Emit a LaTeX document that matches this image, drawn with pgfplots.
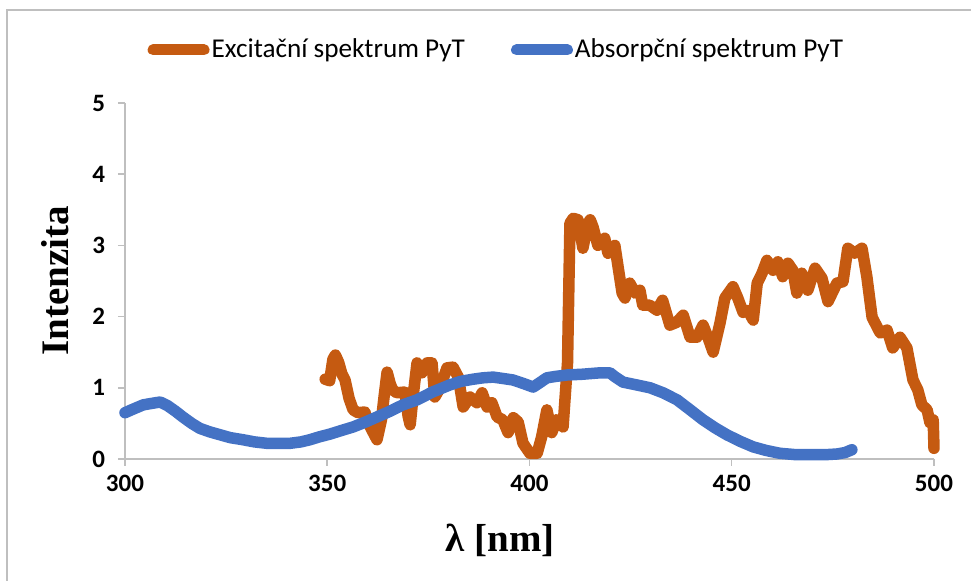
\documentclass[border=0pt]{standalone}
\usepackage{pgfplots}
\pgfplotsset{compat=1.18}
\usepackage{fontspec}
\setmainfont{Carlito}
\newfontfamily\serifbf{Liberation Serif}

\definecolor{excit}{RGB}{197,90,17}
\definecolor{absorb}{RGB}{68,114,196}
\definecolor{axgray}{RGB}{191,191,191}

\begin{document}
\begin{tikzpicture}
% page area and the chart frame
\path[use as bounding box] (0,0) rectangle (485.5pt,290.5pt);
\draw[axgray, line width=0.75pt] (3.5pt,0pt) -- (3.5pt,285.5pt) -- (485.5pt,285.5pt);

\begin{axis}[
  at={(62.5pt,61pt)}, anchor=south west,
  scale only axis, width=404.5pt, height=178pt,
  xmin=300, xmax=500, ymin=0, ymax=5,
  xtick={300,350,...,500}, ytick={0,1,2,3,4,5},
  axis x line*=bottom, axis y line*=left,
  axis line style={axgray, line width=0.75pt, -},
  tick style={axgray, line width=0.75pt},
  tick align=outside, major tick length=3.5pt,
  ticklabel style={font=\fontsize{12.5}{14}\selectfont\bfseries},
  /pgf/number format/assume math mode=true,
  yticklabel style={xshift=-3pt},
  xticklabel style={yshift=-1pt},
  xlabel={λ [nm]}, ylabel={Intenzita},
  label style={font=\serifbf\bfseries\fontsize{19.5}{22}\selectfont},
  xlabel style={at={(axis description cs:0.464,-0.2275)}, anchor=center},
  ylabel style={at={(axis description cs:-0.0865,0.5)}, anchor=center},
  clip=false,
  legend columns=2,
  legend style={at={(0.459,1.149)}, anchor=center, draw=none, fill=none,
    font=\fontsize{13.6}{16}\selectfont,
    nodes={inner sep=1pt},
    /tikz/every even column/.append style={column sep=22pt}},
  legend image code/.code={\draw[#1, line width=5.5pt, line cap=round] (2.75pt,0pt) -- (28.25pt,0pt);},
]

% excitation spectrum
\addplot[excit, line width=5.75pt, line join=round, line cap=round] coordinates {
(349.5,1.12) (350.6,1.10) (351.4,1.40) (352.0,1.46) (352.8,1.36) (353.6,1.20)
(354.4,1.11) (355.4,0.85) (356.4,0.69) (357.6,0.65) (359.3,0.66) (360.2,0.50)
(361.0,0.41) (362.3,0.27) (363.4,0.55) (364.1,0.90) (364.8,1.22) (365.6,1.05)
(366.2,0.97) (367.2,0.93) (369.2,0.94) (370.0,0.60) (370.5,0.48) (371.2,0.87)
(372.2,1.35) (373.4,1.21) (374.7,1.35) (375.9,1.35) (376.6,0.87) (377.9,1.00)
(379.6,1.28) (381.1,1.29) (382.4,1.15) (383.6,0.73) (385.3,0.87) (387.0,0.79)
(388.3,0.93) (389.5,0.73) (390.7,0.79) (392.0,0.59) (393.4,0.55) (394.7,0.37)
(396.0,0.58) (397.2,0.52) (398.4,0.22) (400.1,0.08) (401.9,0.08) (403.0,0.31)
(404.3,0.69) (405.5,0.37) (406.7,0.55) (408.3,0.45) (409.4,1.35) (410.0,3.31)
(410.8,3.38) (412.0,3.36) (413.2,2.96) (414.4,3.30) (415.0,3.36) (415.7,3.26)
(416.9,3.00) (418.6,3.10) (419.4,2.89) (421.1,3.00) (421.9,2.70) (422.9,2.33)
(423.6,2.26) (424.8,2.47) (426.1,2.33) (427.3,2.37) (428.0,2.16) (429.7,2.16)
(431.5,2.09) (432.9,2.23) (434.7,1.88) (436.4,1.92) (438.0,2.02) (439.7,1.71)
(441.4,1.71) (442.9,1.88) (444.1,1.71) (445.4,1.50) (447.1,1.91) (448.3,2.26)
(450.3,2.42) (451.5,2.26) (452.8,2.06) (454.0,2.09) (455.3,1.95) (456.3,2.47)
(457.5,2.61) (458.7,2.79) (460.2,2.65) (461.4,2.77) (462.6,2.56) (463.9,2.75)
(465.1,2.65) (466.1,2.33) (467.3,2.61) (468.8,2.37) (470.6,2.68) (472.3,2.54)
(473.8,2.21) (476.0,2.47) (477.5,2.49) (478.7,2.96) (480.4,2.89) (482.2,2.96)
(483.4,2.56) (484.7,1.99) (486.7,1.77) (488.4,1.81) (489.8,1.56) (491.6,1.71)
(493.3,1.56) (494.8,1.11) (496.0,0.97) (497.0,0.76) (498.3,0.69) (499.0,0.51)
(499.8,0.55) (500.0,0.15)
};
\addlegendentry{Excitační spektrum PyT}

% absorption spectrum
\addplot[absorb, line width=5.75pt, line join=round, line cap=round] coordinates {
(300,0.65) (302,0.70) (304.5,0.76) (306.5,0.78) (308.7,0.80) (310.5,0.75)
(312.5,0.67) (314.3,0.59) (316.5,0.50) (318.5,0.43) (321,0.38) (323.5,0.34)
(326,0.30) (329.2,0.27) (332,0.24) (335.1,0.22) (338,0.22) (340.8,0.22)
(343.5,0.24) (345.7,0.27) (348,0.31) (350.7,0.35) (353.5,0.40) (356.4,0.45)
(359.5,0.52) (362.3,0.59) (365.5,0.67) (368.7,0.76) (372.2,0.83) (376,0.94)
(380.3,1.04) (383,1.09) (386,1.12) (388.5,1.14) (391,1.15) (393.5,1.13)
(395.9,1.11) (398.5,1.06) (400.9,1.01) (402.5,1.07) (404.3,1.14) (406.5,1.16)
(409.3,1.18) (413,1.19) (417.4,1.21) (419.9,1.21) (421,1.16) (423.1,1.08)
(426.5,1.04) (429.8,1.00) (433,0.93) (436.5,0.83) (439.5,0.70) (442.9,0.55)
(445.8,0.44) (448.8,0.34) (452,0.25) (455.3,0.17) (458.5,0.12) (461.9,0.08)
(466,0.06) (470.1,0.06) (473,0.06) (476,0.07) (478,0.09) (479.7,0.13)
};
\addlegendentry{Absorpční spektrum PyT}

\end{axis}
\end{tikzpicture}
\end{document}
